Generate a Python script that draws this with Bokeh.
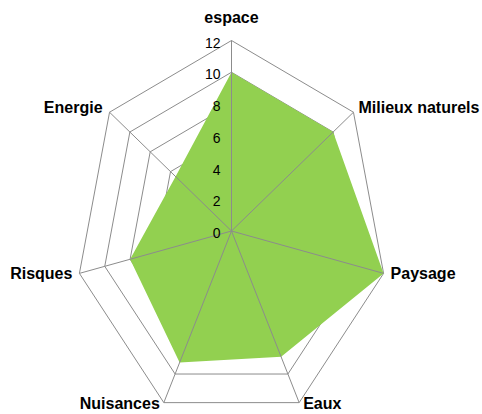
import numpy as np
from bokeh.plotting import figure
from bokeh.models import ColumnDataSource
from bokeh.core.properties import value
from bokeh.embed import file_html
from bokeh.resources import INLINE

categories = ["espace", "Milieux naturels", "Paysage", "Eaux", "Nuisances", "Risques", "Energie"]
scores = [10, 10, 12, 8.8, 9.2, 8, 5.5]
grid_levels = [2, 4, 6, 8, 10, 12]
tick_labels = ["0", "2", "4", "6", "8", "10", "12"]
tick_values = [0, 2, 4, 6, 8, 10, 12]

n = len(categories)
angles = np.pi / 2 - 2 * np.pi * np.arange(n) / n
cosv, sinv = np.cos(angles), np.sin(angles)
rmax = 12

W, H = 482, 414
cx_px, cy_px = 231, 230.5
sx, sy = 13.0, 15.875
p = figure(width=W, height=H, output_backend="svg", toolbar_location=None,
           x_range=(-cx_px / sx, (W - cx_px) / sx),
           y_range=(-(H - cy_px) / sy, cy_px / sy),
           min_border=0, outline_line_color=None)
p.axis.visible = False
p.grid.visible = False
p.background_fill_color = "white"

grid_col = "#8c8c8c"
for lv in grid_levels:
    xs = list(lv * cosv) + [lv * cosv[0]]
    ys = list(lv * sinv) + [lv * sinv[0]]
    p.line(xs, ys, line_color=grid_col, line_width=1)

p.patch(list(np.array(scores) * cosv), list(np.array(scores) * sinv),
        fill_color="#92D050", line_color=None)

for i in range(n):
    p.line([0, rmax * cosv[i]], [0, rmax * sinv[i]], line_color=grid_col, line_width=1)

# category labels
xo = [0, 5, 7, 4, -4, -7, -7]
yo = [-23, -5, 0, 1, 1, 0, -5]
al = ["center", "left", "left", "left", "right", "right", "right"]
src = ColumnDataSource(dict(x=list(rmax * cosv), y=list(rmax * sinv), t=categories,
                            xo=xo, yo=yo, al=al))
p.text("x", "y", text="t", source=src, x_offset="xo", y_offset="yo", text_align="al",
       text_baseline="middle", text_font=value("Liberation Sans"), text_font_style="bold",
       text_font_size="16px", text_color="black")

# radial tick labels
tsrc = ColumnDataSource(dict(x=[0] * len(tick_values), y=tick_values, t=tick_labels))
p.text("x", "y", text="t", source=tsrc, x_offset=-11, y_offset=2, text_align="right",
       text_baseline="middle", text_font=value("Liberation Sans"), text_font_size="14px",
       text_color="black")

open("out.html", "w").write(file_html(p, INLINE))
